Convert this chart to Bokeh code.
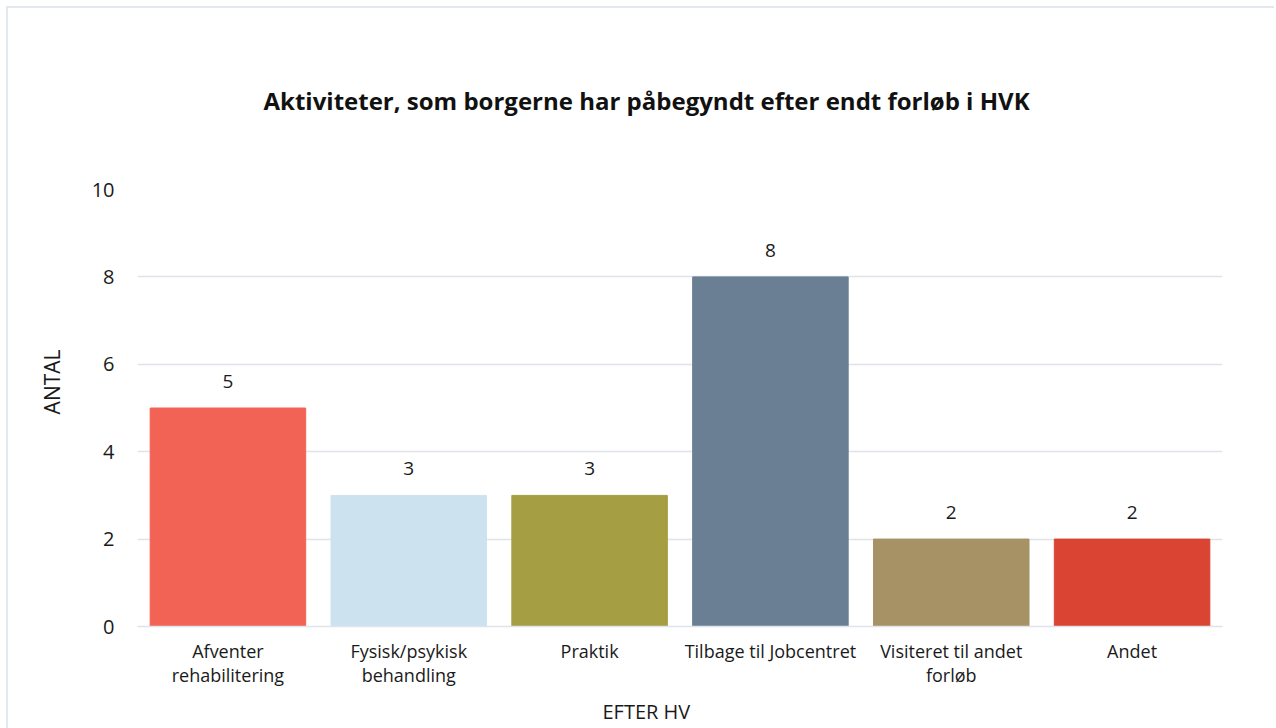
from bokeh.plotting import figure
from bokeh.models import ColumnDataSource, Title, Range1d
from bokeh.core.properties import value
from bokeh.embed import file_html
from bokeh.resources import INLINE

categories = ["Afventer\nrehabilitering", "Fysisk/psykisk\nbehandling", "Praktik",
              "Tilbage til Jobcentret", "Visiteret til andet\nforløb", "Andet"]
counts = [5, 3, 3, 8, 2, 2]
colors = ["#F26355", "#CDE2EF", "#A59E42", "#6A7F94", "#A69265", "#DA4432"]
y_ticks = [0, 2, 4, 6, 8, 10]
title_text = "Aktiviteter, som borgerne har påbegyndt efter endt forløb i HVK"
x_title = "EFTER HV"
y_title = "ANTAL"

FONT = "Open Sans"

src = ColumnDataSource(dict(cat=categories, n=counts, color=colors,
                            lbl=[str(c) for c in counts]))

p = figure(x_range=categories, y_range=Range1d(0, 10), width=1268, height=722,
           output_backend="svg", toolbar_location=None,
           min_border_left=129, min_border_right=54, min_border_top=180, min_border_bottom=104)
p.margin = (6, 0, 0, 6)
p.styles = {"border-left": "2px solid #e3e8ee", "border-top": "2px solid #e3e8ee"}
p.outline_line_color = None

p.vbar(x="cat", top="n", width=0.86, color="color", source=src)
p.text(x="cat", y="n", text="lbl", source=src, text_align="center", text_baseline="bottom",
       y_offset=-20, text_font=value(FONT), text_font_size="19px", text_color="#1a1a1a")

p.xgrid.grid_line_color = None
p.ygrid.grid_line_color = "#dfe4ea"
p.ygrid.grid_line_width = 1.5
p.yaxis.ticker = y_ticks
p.yaxis.axis_line_color = None
p.yaxis.major_tick_line_color = None
p.yaxis.minor_tick_line_color = None
p.yaxis.major_label_text_font = FONT
p.yaxis.major_label_text_font_size = "20px"
p.yaxis.major_label_text_color = "#1a1a1a"
p.yaxis.major_label_standoff = 17

p.xaxis.axis_line_color = "#dfe4ea"
p.xaxis.axis_line_width = 1.5
p.xaxis.major_tick_line_color = None
p.xaxis.major_label_text_font = FONT
p.xaxis.major_label_text_font_size = "18px"
p.xaxis.major_label_text_color = "#1a1a1a"
p.xaxis.major_label_standoff = 6
p.xaxis.major_label_text_line_height = 1.0

p.add_layout(Title(text=title_text, align="left", offset=126, standoff=146,
                   text_font=FONT, text_font_size="24px", text_font_style="bold",
                   text_color="#111111"), "above")
p.add_layout(Title(text=x_title, align="left", offset=465, standoff=12,
                   text_font=FONT, text_font_size="20px", text_font_style="normal",
                   text_color="#1a1a1a"), "below")
p.add_layout(Title(text=y_title, align="right", offset=160, standoff=46,
                   text_font=FONT, text_font_size="21px", text_font_style="normal",
                   text_color="#1a1a1a"), "left")

open("out.html", "w").write(file_html(p, INLINE))
